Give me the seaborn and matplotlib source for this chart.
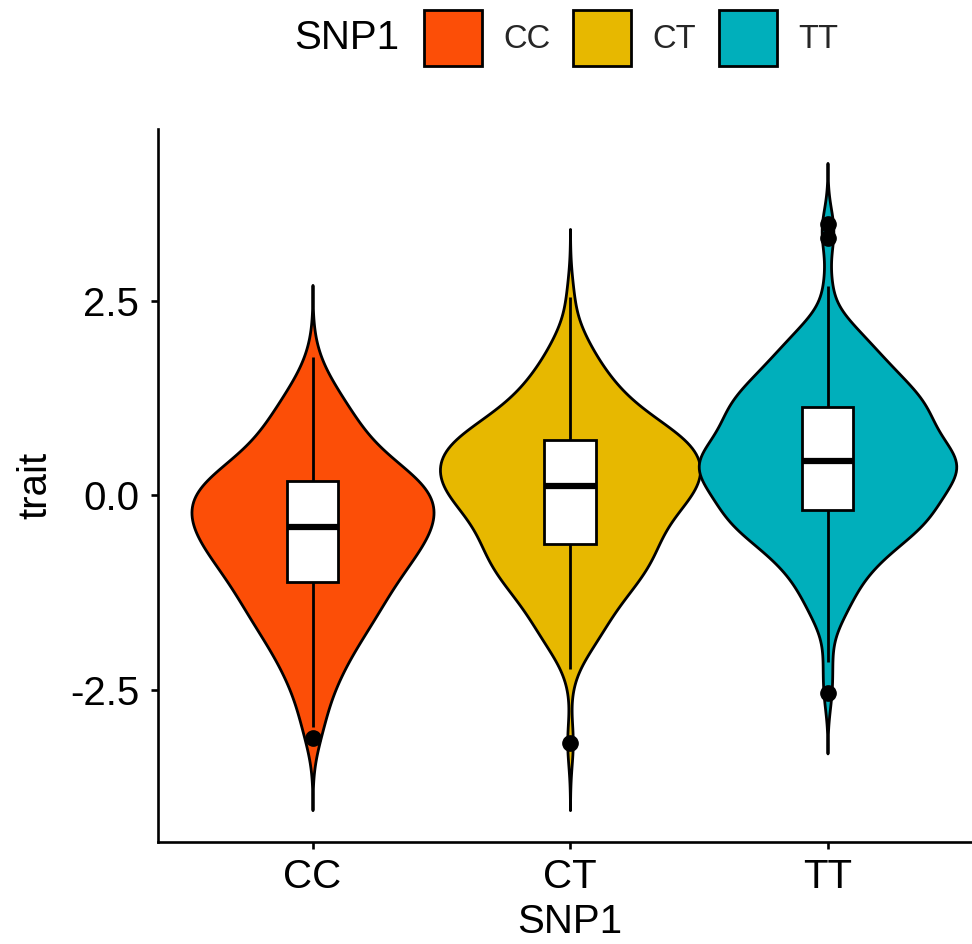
import numpy as np
import pandas as pd
import matplotlib
matplotlib.use("Agg")
import matplotlib.pyplot as plt
import seaborn as sns
from matplotlib.patches import Patch

# ---- data: trait values and how often each occurs ----
categories = ["CC", "CT", "TT"]
palette = ["#FC4E07", "#E7B800", "#00AFBB"]

trait_CC = [-3.12, -2.98, -2.82, -2.68, -2.52, -2.36, -2.20, -2.04, -1.88, -1.72,
            -1.56, -1.40, -1.26,
            -1.12, -1.03, -0.95, -0.88, -0.80, -0.73, -0.66, -0.58, -0.52, -0.46,
            -0.40, -0.34, -0.28, -0.22, -0.16, -0.10, -0.04, 0.03, 0.09, 0.14,
            0.19, 0.27, 0.36, 0.46, 0.57, 0.70, 0.84, 1.00, 1.20, 1.45, 1.78]
count_CC = [1, 1, 1, 1, 2, 2, 3, 3, 4, 5,
            5, 6, 6,
            4, 4, 4, 4, 4, 4, 4, 4, 4, 4,
            4, 4, 4, 4, 4, 4, 4, 4, 4, 4,
            4, 5, 4, 4, 4, 4, 4, 4, 4, 3, 1]

trait_CT = [-3.18, -2.23, -1.90, -1.66, -1.45, -1.28, -1.12, -0.98, -0.85, -0.73,
            -0.62, -0.53, -0.44, -0.36, -0.28, -0.20, -0.12, -0.05, 0.01, 0.07,
            0.12, 0.18, 0.24, 0.30, 0.36, 0.42, 0.48, 0.54, 0.60, 0.66,
            0.71, 0.78, 0.86, 0.95, 1.05, 1.17, 1.31, 1.48, 1.70, 2.02, 2.56]
count_CT = [1, 1, 4, 4, 4, 5, 5, 5, 6, 5,
            4, 4, 4, 4, 4, 4, 4, 4, 4, 4,
            4, 4, 4, 4, 4, 4, 4, 4, 4, 4,
            4, 5, 4, 4, 4, 4, 4, 4, 4, 3, 1]

trait_TT = [-2.54, -2.14, -1.62, -1.36, -1.15, -0.95, -0.78, -0.60, -0.45, -0.31,
            -0.19, -0.12, -0.05, 0.02, 0.09, 0.16, 0.22, 0.28, 0.34, 0.39,
            0.44, 0.50, 0.56, 0.62, 0.69, 0.76, 0.84, 0.92, 1.00, 1.07,
            1.14, 1.23, 1.33, 1.45, 1.58, 1.74, 1.93, 2.18, 2.70, 3.32, 3.50]
count_TT = [1, 1, 2, 3, 3, 4, 5, 6, 7, 8,
            4, 4, 4, 4, 4, 4, 4, 4, 4, 4,
            4, 4, 4, 4, 4, 4, 4, 4, 4, 4,
            4, 5, 5, 5, 5, 5, 5, 4, 1, 1, 1]

y_ticks = [-2.5, 0.0, 2.5]
y_tick_labels = ["-2.5", "0.0", "2.5"]

values = {"CC": trait_CC, "CT": trait_CT, "TT": trait_TT}
counts = {"CC": count_CC, "CT": count_CT, "TT": count_TT}
df = pd.concat([
    pd.DataFrame({"SNP1": c, "trait": np.repeat(values[c], counts[c])})
    for c in categories
], ignore_index=True)

# ---- style ----
sns.set_theme(style="ticks")
plt.rcParams["font.family"] = ["Liberation Sans", "DejaVu Sans"]

W, H = 972, 944
fig = plt.figure(figsize=(W / 100, H / 100), dpi=100)
ax_left, ax_right, ax_top, ax_bottom = 158, 982, 129.5, 842
ax = fig.add_axes([ax_left / W, 1 - ax_bottom / H,
                   (ax_right - ax_left) / W, (ax_bottom - ax_top) / H])

bandwidth = {"CC": 0.31, "CT": 0.29, "TT": 0.26}
vwidth = {"CC": 0.94, "CT": 1.01, "TT": 1.0}
for cat, col in zip(categories, palette):
    sub = df[df["SNP1"] == cat]
    sd = sub["trait"].std()
    sns.violinplot(data=sub, x="SNP1", y="trait", order=categories,
                   color=col, saturation=1, inner=None, cut=3, gridsize=200,
                   bw_method=bandwidth[cat] / sd, width=vwidth[cat],
                   linecolor="black", linewidth=2.0, ax=ax)

sns.boxplot(data=df, x="SNP1", y="trait", order=categories,
            color="white", saturation=1, width=0.2,
            linecolor="black", linewidth=2.0, showcaps=False,
            fliersize=11,
            flierprops=dict(marker="o", markerfacecolor="black",
                            markeredgecolor="black"),
            medianprops=dict(linewidth=4.5, color="black"),
            ax=ax)

ax.set_xlim(-0.6, 2.6)
ax.set_ylim(-4.46, 4.71)
ax.set_yticks(y_ticks)
ax.set_yticklabels(y_tick_labels)
sns.despine(ax=ax)
for s in ["left", "bottom"]:
    ax.spines[s].set_linewidth(1.9)
    ax.spines[s].set_color("black")
ax.tick_params(axis="both", direction="out", length=5, width=1.9,
               color="black", labelcolor="black", labelsize=29)
ax.tick_params(axis="y", pad=8.5)
ax.tick_params(axis="x", pad=6.5)
ax.set_xlabel("SNP1", fontsize=29, color="black", labelpad=5)
ax.set_ylabel("trait", fontsize=29, color="black", labelpad=11)

# ---- legend on top ----
fs_leg = 23.5
handles = [Patch(facecolor=c, edgecolor="black", linewidth=2.0) for c in palette]
fig.legend(handles, categories, loc="center left",
           bbox_to_anchor=(424 / W, 1 - 38 / H), ncol=3, frameon=False,
           fontsize=fs_leg, handlelength=58 / 32.6, handleheight=2.3,
           handletextpad=0.65, columnspacing=0.7, borderpad=0, borderaxespad=0)
fig.text(294 / W, 1 - 38 / H, "SNP1", fontsize=29, va="center", ha="left",
         color="black")

fig.savefig("out.png", dpi=100)
